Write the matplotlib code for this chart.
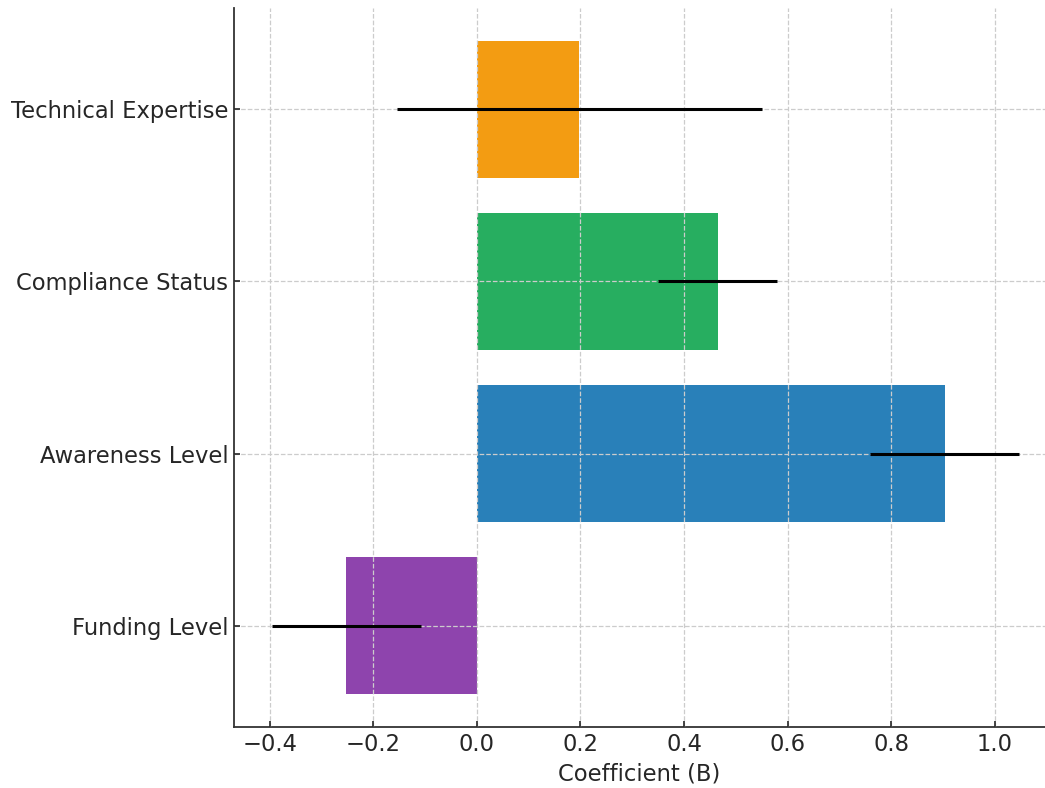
import numpy as np
import matplotlib.pyplot as plt

# regression coefficients with symmetric error (bottom to top)
variables = ["Funding Level", "Awareness Level", "Compliance Status", "Technical Expertise"]
coefficients = [-0.252, 0.903, 0.465, 0.198]
errors = [0.144, 0.143, 0.115, 0.353]
colors = ["#8e44ad", "#2980b9", "#27ae60", "#f39c12"]

fig = plt.figure(figsize=(10.45, 7.88), dpi=100)
ax = fig.add_axes([234 / 1045, 61 / 788, 811 / 1045, 719 / 788])

ypos = np.arange(len(variables))
ax.barh(ypos, coefficients, height=0.8, color=colors,
        xerr=errors, error_kw=dict(ecolor="black", elinewidth=2.2, capsize=0, zorder=3))

ax.set_yticks(ypos)
ax.set_yticklabels(variables)
ax.set_xlim(-0.469, 1.097)
ax.set_xlabel("Coefficient (B)", fontsize=16.3, color="#262626", labelpad=5)

ax.set_axisbelow(False)
ax.grid(True, linestyle="--", color="#cccccc", linewidth=0.9)

for side in ["top", "right"]:
    ax.spines[side].set_visible(False)
for side in ["left", "bottom"]:
    ax.spines[side].set_color("#333333")
    ax.spines[side].set_linewidth(1.3)
ax.tick_params(labelsize=16.3, colors="#262626", direction="in", length=4.5, width=1.2, pad=4)

fig.savefig("out.png", dpi=100)
